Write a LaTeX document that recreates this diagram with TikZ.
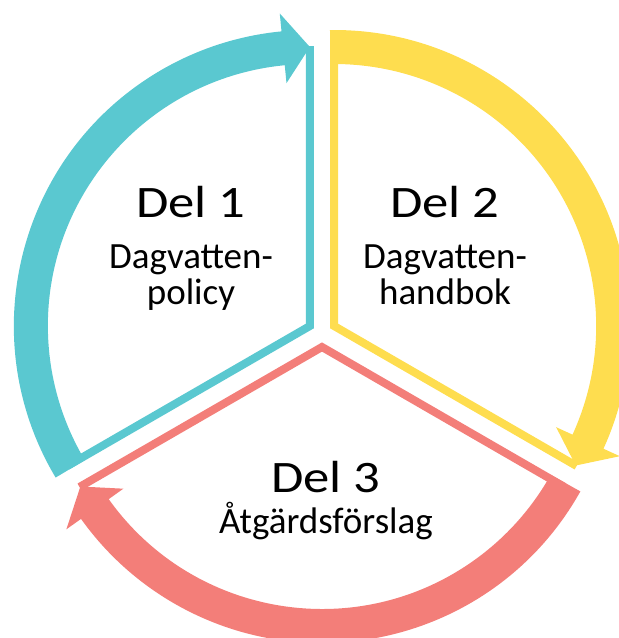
\documentclass[tikz,border=0pt]{standalone}
\usepackage{fontspec}
\setmainfont{Carlito}
\newfontfamily\delfont[FakeStretch=1.17]{Carlito}
\usepackage[dvipsnames]{xcolor}

\definecolor{policycyan}{HTML}{5AC8D0}
\definecolor{handbokyellow}{HTML}{FEDD4F}
\definecolor{atgardred}{HTML}{F37E79}

\begin{document}
\begin{tikzpicture}[x=1pt,y=1pt,side line/.style={line width=8pt,line join=miter},del/.style={font=\delfont\fontsize{45}{50}\selectfont,anchor=base,inner sep=0pt},part/.style={font=\fontsize{37}{44}\selectfont,anchor=base,inner sep=0pt}]
                \useasboundingbox (-322,-305) rectangle (297,333);
                \clip (-322,-305) rectangle (297,333);

                % Del 1, cyan
                \begin{scope}[shift={(150:14)}]
                    \draw[side line,policycyan] (210:280) -- (0,0) -- (90:280);
                    \fill[policycyan] (210.8:296) arc[start angle=210.8,end angle=95.5,radius=296]
                        -- (95.5:314) -- (90:279) -- (95.5:244) -- (95.5:262)
                        arc[start angle=95.5,end angle=210.8,radius=262] -- cycle;
                \end{scope}

                % Del 2, yellow
                \begin{scope}[shift={(30:14)}]
                    \draw[side line,handbokyellow] (90:280) -- (0,0) -- (-30:280);
                    \fill[handbokyellow] (90.8:296) arc[start angle=90.8,end angle=-24.5,radius=296]
                        -- (-24.5:314) -- (-30:279) -- (-24.5:244) -- (-24.5:262)
                        arc[start angle=-24.5,end angle=90.8,radius=262] -- cycle;
                \end{scope}

                % Del 3, red
                \begin{scope}[shift={(270:14)}]
                    \draw[side line,atgardred] (-30:280) -- (0,0) -- (210:280);
                    \fill[atgardred] (-29.2:296) arc[start angle=-29.2,end angle=-144.5,radius=296]
                        -- (-144.5:314) -- (-150:279) -- (-144.5:244) -- (-144.5:262)
                        arc[start angle=-144.5,end angle=-29.2,radius=262] -- cycle;
                \end{scope}

                \node[del] (del1) at (-131,116) {Del 1};
                \node[part] (del1a) at ([yshift=-51]del1.base) {Dagvatten-};
                \node[part] (del1b) at ([yshift=-36]del1a.base) {policy};

                \node[del] (del2) at (123,116) {Del 2};
                \node[part] (del2a) at ([yshift=-51]del2.base) {Dagvatten-};
                \node[part] (del2b) at ([yshift=-36]del2a.base) {handbok};

                \node[del] (del3) at (4,-159) {Del 3};
                \node[part] (del3a) at ([yshift=-41]del3.base) {Åtgärdsförslag};
            \end{tikzpicture}
\end{document}
